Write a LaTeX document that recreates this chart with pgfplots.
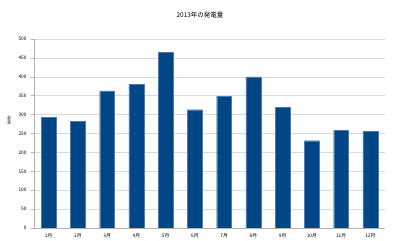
\documentclass[border=0pt]{standalone}
\usepackage{pgfplots}
\pgfplotsset{compat=1.18}
\usepackage{fontspec}
\setmainfont{Liberation Sans}
\newfontfamily\cjk{Noto Sans CJK JP}
\definecolor{barblue}{HTML}{004586}
\definecolor{gridgray}{HTML}{D9D9D9}
\definecolor{axgray}{HTML}{B3B3B3}
\begin{document}
\begin{tikzpicture}[x=1bp,y=1bp]
\path[use as bounding box] (0,0) rectangle (400,241);
\node[font=\cjk\fontsize{6.5}{7}\selectfont] at (200,225.5) {2013年の発電量};
\node[font=\fontsize{4.5}{5}\selectfont, rotate=90] at (9,121) {kWh};
\begin{axis}[
  at={(34bp,13bp)}, anchor=south west,
  scale only axis, width=351bp, height=189bp,
  xmin=0.5, xmax=12.5, ymin=0, ymax=500,
  ytick={0,50,...,500},
  xtick={1,...,12},
  xticklabels={1月,2月,3月,4月,5月,6月,7月,8月,9月,10月,11月,12月},
  minor xtick={0.5,1.5,...,12.5},
  tick label style={font=\cjk\fontsize{4.8}{5}\selectfont},
  /pgf/number format/assume math mode=true,
  ymajorgrids, grid style={gridgray, line width=0.6pt},
  axis x line*=bottom, axis y line*=left,
  axis line style={axgray, line width=0.6pt},
  every tick/.style={axgray, line width=0.6pt},
  tick align=outside,
  major tick length=3bp, minor tick length=3bp,
  xtick style={draw=none},
  minor x tick style={axgray},
  xticklabel style={yshift=1pt},
  yticklabel style={xshift=-1pt},
]
\addplot[ybar, bar width=0.51, fill=barblue, draw=barblue!70!white, line width=0.3pt] coordinates {
(1,292) (2,283) (3,363) (4,380) (5,465) (6,313)
(7,349) (8,400) (9,320) (10,231) (11,258) (12,256)};
\end{axis}
\end{tikzpicture}
\end{document}
